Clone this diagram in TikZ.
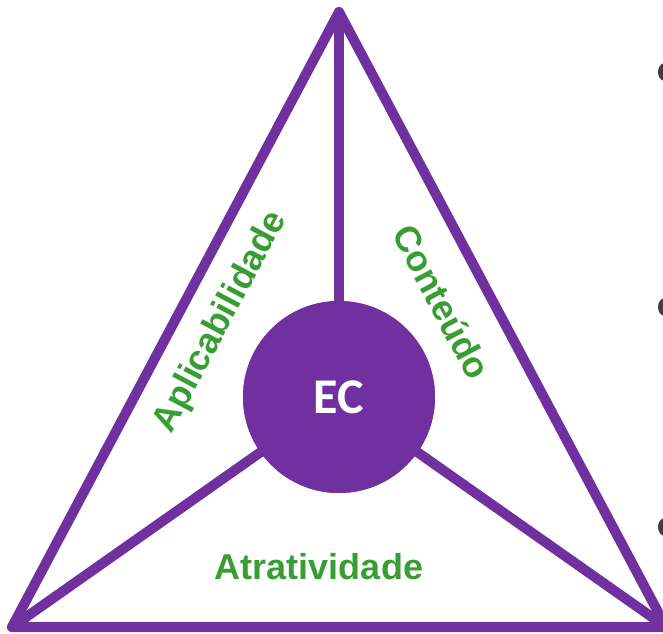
\documentclass[tikz,border=0pt]{standalone}
\usepackage{fontspec}
\setmainfont{Liberation Sans}
\newfontfamily\hubfont{Carlito}
\usetikzlibrary{positioning, calc}
\definecolor{ecpurple}{HTML}{7030A0}
\definecolor{ecgreen}{HTML}{389E34}
\definecolor{ecgray}{HTML}{3F3F3F}

\begin{document}
\begin{tikzpicture}[
    x=1pt, y=-1pt,
    edge/.style={draw=ecpurple, line width=10pt, line cap=round, line join=round},
    hub/.style={circle, fill=ecpurple, minimum size=192pt, inner sep=0pt, font=\hubfont\fontsize{50}{54}\selectfont\bfseries, text=white},
    facet/.style={font=\fontsize{36}{40}\selectfont\bfseries, text=ecgreen, inner sep=0pt},
]
\useasboundingbox (0,0) rectangle (663,633);
\clip (0,0) rectangle (663,633);

% Corners
\coordinate (apex) at (339,12);
\coordinate (bl) at (12,627);
\coordinate (br) at (666,627);

% Centre
\node[hub] (ec) at (339,397) {};

% Triangle and spokes
\draw[edge] (apex) -- (bl) -- (br) -- cycle;
\draw[edge] (apex) -- (ec.center);
\draw[edge] (bl) -- (ec.center);
\draw[edge] (br) -- (ec.center);
\node[hub] at (ec) {EC};

% Labels
\node[facet, rotate=62] (apl) at (221,322) {Aplicabilidade};
\node[facet, rotate=-62] (cont) at (442,302) {Conteúdo};
\node[facet] (atr) at (319,567) {Atratividade};

% Cut-off marks at the right edge
\foreach \y in {72,307,527} {
    \fill[ecgray] (665,\y) ellipse (7pt and 9pt);
}

\end{tikzpicture}
\end{document}
